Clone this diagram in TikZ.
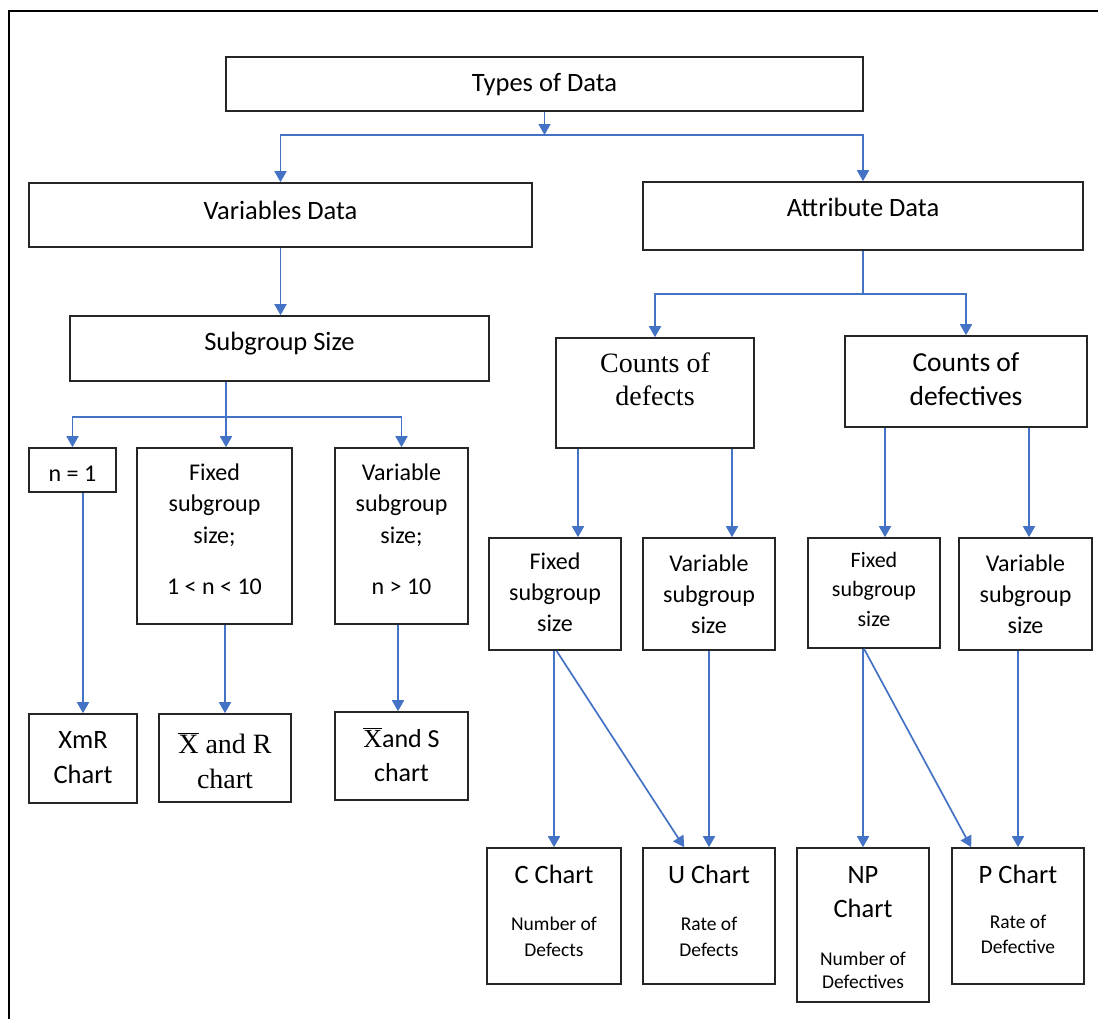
\documentclass[tikz,border=0pt]{standalone}
\usepackage{fontspec}
\setmainfont{Carlito}
\newfontfamily\cmb{Liberation Serif}
\usetikzlibrary{fit,arrows.meta}
\definecolor{arrowblue}{HTML}{4472C4}
\newcommand{\fs}[2]{\fontsize{#1}{#2}\selectfont}
\begin{document}
\begin{tikzpicture}[x=1pt,y=-1pt,
  box/.style={draw=black!85, line width=1.6pt, inner sep=0pt},
  ln/.style={draw=arrowblue, line width=1.7pt},
  arr/.style={ln, -{Triangle[width=12pt,length=11pt]}},
  txt/.style={align=center, inner sep=0pt, anchor=base},
  hdr/.style={txt, font=\fs{26.5}{34}},
  mid/.style={txt, font=\fs{24}{31.5}},
  sml/.style={txt, font=\fs{19.5}{26}}]
\useasboundingbox (0,0) rectangle (1098,1018);
% frame
\draw[line width=2pt] (9,1020) -- (9,11) -- (1100,11);
% boxes
\node[box, fit={(226,57) (863,111)}] (types) {};
\node[box, fit={(29,183) (532,247)}] (vars) {};
\node[box, fit={(643,182) (1083,250)}] (attr) {};
\node[box, fit={(70,316) (489,381)}] (sub) {};
\node[box, fit={(556,338) (754,448)}] (cdef) {};
\node[box, fit={(845,336) (1087,427)}] (cdfv) {};
\node[box, fit={(29,448) (116,492)}] (n1) {};
\node[box, fit={(137,448) (292,624)}] (fix1) {};
\node[box, fit={(335,448) (468,624)}] (var1) {};
\node[box, fit={(29,714) (137,803)}] (xmr) {};
\node[box, fit={(159,714) (291,802)}] (xbr) {};
\node[box, fit={(335,712) (468,800)}] (xbs) {};
\node[box, fit={(489,538) (621,650)}] (fix2) {};
\node[box, fit={(643,538) (775,650)}] (var2) {};
\node[box, fit={(808,538) (940,648)}] (fix3) {};
\node[box, fit={(959,538) (1092,650)}] (var3) {};
\node[box, fit={(487,848) (621,984)}] (cch) {};
\node[box, fit={(643,848) (775,984)}] (uch) {};
\node[box, fit={(797,848) (929,1002)}] (npch) {};
\node[box, fit={(952,848) (1084,984)}] (pch) {};
% texts (anchor base = last line baseline)
\node[hdr] (tTypes) at (544.5,91) {Types of Data};
\node[hdr] (tVars) at (280.5,219) {Variables Data};
\node[hdr] (tAttr) at (863,216) {Attribute Data};
\node[hdr] (tSub) at (279.5,350) {Subgroup Size};
\node[txt, font=\cmb\fs{28}{33}] (tCdef) at (655,405) {Counts of\\defects};
\node[txt, font=\fs{27.5}{34}] (tCdfv) at (966,405) {Counts of\\defectives};
\node[mid] (tN1) at (72.5,481) {n = 1};
\node[mid] (tFix1) at (214.5,594) {Fixed\\subgroup\\size;\\[19.5pt]1 < n < 10};
\node[mid] (tVar1) at (401.5,594) {Variable\\subgroup\\size;\\[19.5pt]n > 10};
\node[txt, font=\fs{26.5}{35}] (tXmr) at (83,783) {XmR\\Chart};
\node[txt, font=\cmb\fs{28}{35}] (tXbr) at (225,788) {$\overline{\hbox{X}}$ and R\\chart};
\node[txt, font=\fs{26}{34}] (tXbs) at (401.5,781) {{\cmb$\overline{\hbox{\cmb X}}$}and S\\chart};
\node[mid, font=\fs{24}{31}] (tFix2) at (555,631) {Fixed\\subgroup\\size};
\node[mid, font=\fs{24}{31}] (tVar2) at (709,633) {Variable\\subgroup\\size};
\node[mid, font=\fs{22}{29.5}] (tFix3) at (874,626) {Fixed\\subgroup\\size};
\node[mid, font=\fs{24}{31}] (tVar3) at (1025.5,633) {Variable\\subgroup\\size};
\node[hdr] (tC) at (554,883) {C Chart};
\node[sml] (tCs) at (554,956) {Number of\\Defects};
\node[hdr] (tU) at (709,883) {U Chart};
\node[sml] (tUs) at (709,956) {Rate of\\Defects};
\node[hdr] (tNP) at (863,917) {NP\\Chart};
\node[sml, font=\fs{19.5}{23}] (tNPs) at (863,988) {Number of\\Defectives};
\node[hdr] (tP) at (1018,883) {P Chart};
\node[sml, font=\fs{19.5}{25}] (tPs) at (1018,953) {Rate of\\Defective};
% connectors
\coordinate (b1) at (544.5,135);
\draw[arr] (types.south) -- (b1);
\draw[arr] (b1) -| (vars.north);
\draw[arr] (b1) -| (attr.north);
\draw[arr] (vars.south) -- (vars.south |- sub.north);
\coordinate (b2) at (863,294);
\draw[ln] (attr.south) -- (b2);
\draw[arr] (b2) -| (cdef.north);
\draw[arr] (b2) -| (cdfv.north);
\coordinate (b3) at (226,417);
\draw[ln] (sub.south -| b3) -- (b3);
\draw[arr] (b3) -| (n1.north);
\draw[arr] (b3) -- (b3 |- fix1.north);
\draw[arr] (b3) -| (var1.north);
\draw[arr] (xmr.north |- n1.south) -- (xmr.north);
\draw[arr] (xbr.north |- fix1.south) -- (xbr.north);
\draw[arr] ([xshift=-3.5pt]xbs.north |- var1.south) -- ([xshift=-3.5pt]xbs.north);
\draw[arr] ([xshift=23pt]fix2.north |- cdef.south) -- ([xshift=23pt]fix2.north);
\draw[arr] ([xshift=23pt]var2.north |- cdef.south) -- ([xshift=23pt]var2.north);
\draw[arr] ([xshift=11pt]fix3.north |- cdfv.south) -- ([xshift=11pt]fix3.north);
\draw[arr] ([xshift=3.5pt]var3.north |- cdfv.south) -- ([xshift=3.5pt]var3.north);
\draw[arr] (cch.north |- fix2.south) -- (cch.north);
\draw[arr] ([xshift=1.5pt]fix2.south) -- ([xshift=42pt]uch.north west);
\draw[arr] (uch.north |- var2.south) -- (uch.north);
\draw[arr] (npch.north |- fix3.south) -- (npch.north);
\draw[arr] ([xshift=-10pt]fix3.south) -- ([xshift=20pt]pch.north west);
\draw[arr] (pch.north |- var3.south) -- (pch.north);
\end{tikzpicture}
\end{document}
